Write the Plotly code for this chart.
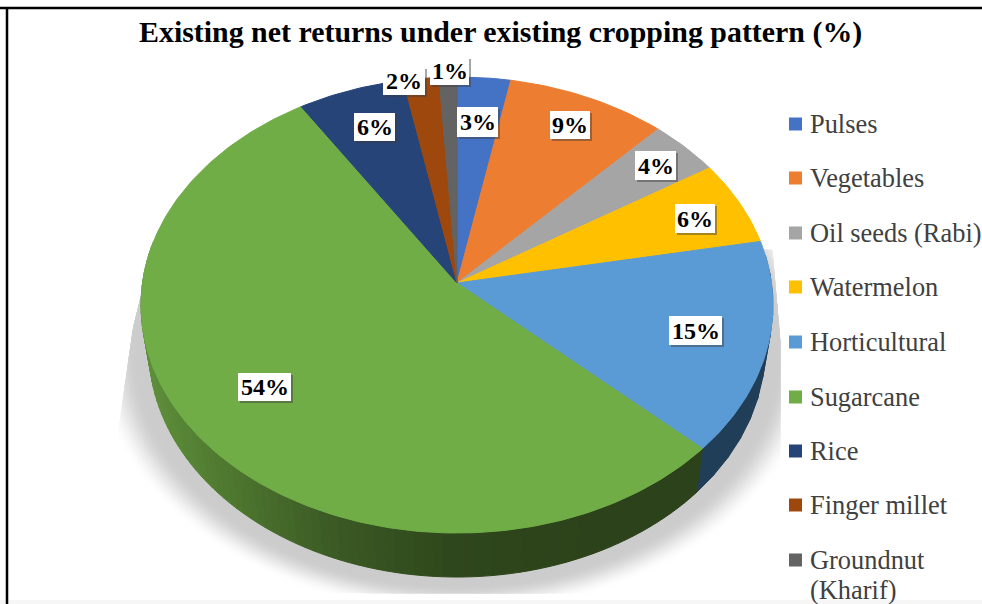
import numpy as np
import plotly.graph_objects as go

# Crop shares of net returns (%) and their legend labels
categories = ["Pulses", "Vegetables", "Oil seeds (Rabi)", "Watermelon", "Horticultural",
              "Sugarcane", "Rice", "Finger millet", "Groundnut<br>(Kharif)"]
shares = [3, 9, 4, 6, 15, 54, 6, 2, 1]
colors = ["#4472c4", "#ed7d31", "#a5a5a5", "#ffc000", "#5b9bd5",
          "#70ad47", "#264478", "#9e480e", "#636363"]
side_colors = {4: "#213e58"}

# Label box centres
label_x = [477.5, 570, 655.5, 695, 695.5, 264.5, 374.5, 404, 449.5]
label_y = [122, 125, 165.5, 218.5, 330.5, 387, 127, 81, 71]
label_w = [41, 40, 41, 40, 53, 53, 41, 42, 39]
label_h = [30, 28, 29, 29, 29, 28, 28, 28, 28]

legend_y = [124, 178, 233, 287, 342, 397, 451, 505, 560]

TITLE = "Existing net returns under existing cropping pattern (%)"

# Perspective disc geometry, all in page pixels
CX, CY = 457.0, 283.0
RX, RY, TILT = 314.5, 225.9, 0.0965
DEPTH, SHRINK = 44.0, 0.975


def top_rim(theta, grow_x=0.0, grow_y=0.0):
    d = 1 + TILT * np.cos(theta)
    return CX + (RX + grow_x) * np.sin(theta) / d, CY - (RY + grow_y) * np.cos(theta) / d


def bottom_rim(theta, grow_x=0.0, grow_y=0.0):
    x, y = top_rim(theta, grow_x, grow_y)
    return CX + (x - CX) * SHRINK, y + DEPTH


def hex_rgb(h):
    return [int(h[i:i + 2], 16) for i in (1, 3, 5)]


fig = go.Figure()


def poly(x, y, fill):
    fig.add_trace(go.Scatter(x=list(x), y=list(y), mode="lines", fill="toself", fillcolor=fill,
                             line=dict(color=fill, width=1), hoverinfo="skip", showlegend=False))


# Soft ground shadow under the disc, spreading further sideways than downwards
t_all = np.linspace(0, 2 * np.pi, 361)
for d in np.arange(32, -1, -1.5):
    sx, sy = bottom_rim(t_all, d * 1.7, d)
    sy = np.clip(sy, 250, 593)
    sx = np.maximum(sx, np.interp(sy, [240, 330, 437], [155, 133, 118]))
    sx = np.minimum(sx, np.interp(sy, [250, 340], [772, 780]))
    k = np.clip((32 - d) / 24, 0, 1)
    k = k * k * (3 - 2 * k)
    g = int(round(255 - 51 * k))
    poly(sx, sy, f"rgb({g},{g},{g})")

# Slice angles from the cumulative shares
edges = np.cumsum([0] + shares) / sum(shares) * 2 * np.pi

# Side wall: green fades with x, blue stays flat
grad_x = [145, 230, 330, 450, 600, 700]
grad_c = np.array([hex_rgb(c) for c in ["#5d8f3a", "#4e762f", "#3b5a24", "#2f471c", "#2c421a", "#2c421a"]])
wall_start = np.pi / 2 * 0.92
for i, (a, b) in enumerate(zip(edges[:-1], edges[1:])):
    lo, hi = max(a, wall_start), min(b, 1.56 * np.pi)
    if lo >= hi:
        continue
    n = 90 if i == 5 else 10
    ts = np.linspace(lo, hi, n + 1)
    for t0, t1 in zip(ts[:-1], ts[1:]):
        tx0, ty0 = top_rim(t0)
        tx1, ty1 = top_rim(t1)
        bx0, by0 = bottom_rim(t0)
        bx1, by1 = bottom_rim(t1)
        if i in side_colors:
            fill = side_colors[i]
        else:
            mx = (tx0 + tx1) / 2
            r, g, bl = [int(round(np.interp(mx, grad_x, grad_c[:, c]))) for c in range(3)]
            fill = f"rgb({r},{g},{bl})"
        poly([tx0, tx1, bx1, bx0, tx0], [ty0, ty1, by1, by0, ty0], fill)

# Top face slices
for i, (a, b) in enumerate(zip(edges[:-1], edges[1:])):
    ts = np.linspace(a, b, max(int((b - a) * 60), 6))
    x, y = top_rim(ts)
    poly(np.r_[CX, x, CX], np.r_[CY, y, CY], colors[i])

# Frame and the pale strip along the bottom
shapes = [
    dict(type="rect", x0=0, x1=982, y0=600, y1=604, fillcolor="#f6f6f6", line_width=0, layer="above"),
    dict(type="line", x0=0, x1=982, y0=8, y1=8, line=dict(color="#000000", width=2.5), layer="above"),
    dict(type="line", x0=7, x1=7, y0=7, y1=604, line=dict(color="#000000", width=2.5), layer="above"),
]

annotations = [dict(x=500.5, y=32, text=f"<b>{TITLE}</b>", showarrow=False, xanchor="center", yanchor="middle",
                    font=dict(family="Liberation Serif", size=29.9, color="#000000"))]

# Value labels: white boxes with a small drop shadow
for i, v in enumerate(shares):
    cx, cy, w, h = label_x[i], label_y[i], label_w[i], label_h[i]
    shapes.append(dict(type="rect", x0=cx - w / 2 + 2, x1=cx + w / 2 + 2, y0=cy - h / 2 + 2, y1=cy + h / 2 + 2,
                       fillcolor="rgba(60,60,60,0.45)", line_width=0, layer="above"))
    shapes.append(dict(type="rect", x0=cx - w / 2, x1=cx + w / 2, y0=cy - h / 2, y1=cy + h / 2,
                       fillcolor="#ffffff", line_width=0, layer="above"))
    annotations.append(dict(x=cx, y=cy, text=f"<b>{v}%</b>", showarrow=False, xanchor="center", yanchor="middle",
                            font=dict(family="Liberation Serif", size=24, color="#000000")))

# Hand-placed legend, so the entries keep their wide spacing
for i, name in enumerate(categories):
    ly = legend_y[i]
    shapes.append(dict(type="rect", x0=789, x1=802, y0=ly - 6.5, y1=ly + 6.5, fillcolor=colors[i],
                       line_width=0, layer="above"))
    for j, line in enumerate(name.split("<br>")):
        annotations.append(dict(x=808, y=ly + 30 * j, text=line, showarrow=False, xanchor="left", yanchor="middle",
                                font=dict(family="Liberation Serif", size=26.4, color="#404040")))

fig.update_layout(
    width=982, height=604, margin=dict(l=0, r=0, t=0, b=0), showlegend=False,
    paper_bgcolor="#ffffff", plot_bgcolor="#ffffff", shapes=shapes, annotations=annotations,
    xaxis=dict(range=[0, 982], visible=False, fixedrange=True),
    yaxis=dict(range=[604, 0], visible=False, fixedrange=True),
)
fig.write_html("out.html", config=dict(displayModeBar=False))
